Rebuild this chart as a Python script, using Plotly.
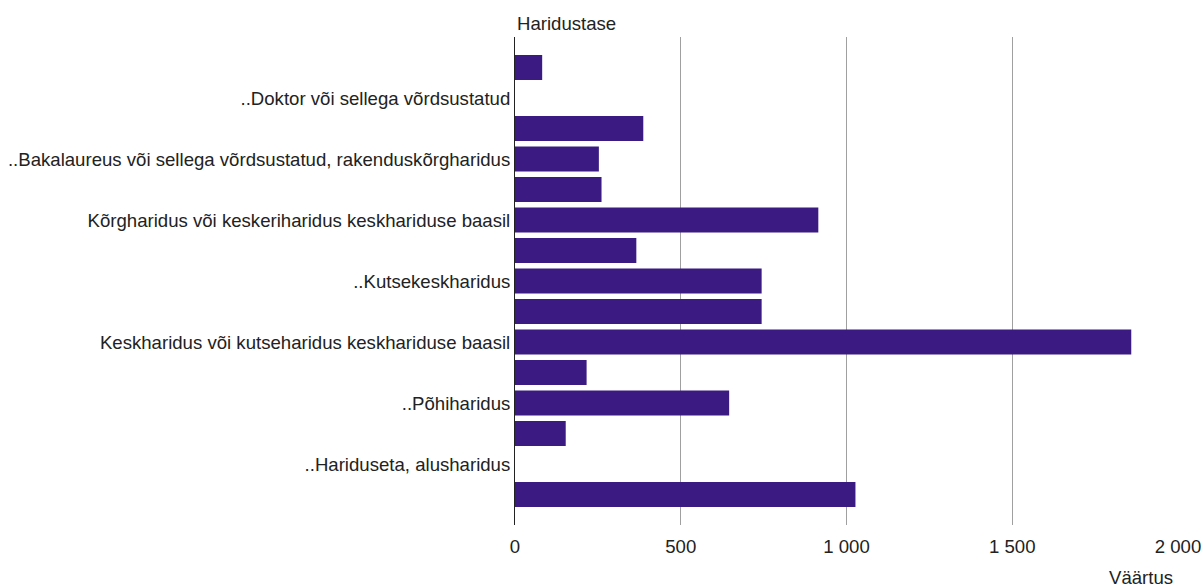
import plotly.graph_objects as go

labels = [
    "",
    "..Doktor või sellega võrdsustatud",
    "",
    "..Bakalaureus või sellega võrdsustatud, rakenduskõrgharidus",
    "",
    "Kõrgharidus või keskeriharidus keskhariduse baasil",
    "",
    "..Kutsekeskharidus",
    "",
    "Keskharidus või kutseharidus keskhariduse baasil",
    "",
    "..Põhiharidus",
    "",
    "..Hariduseta, alusharidus",
    "",
]
positions = list(range(len(labels)))
values = [82, None, 387, 253, 261, 915, 366, 744, 744, 1859, 216, 646, 153, None, 1027]

x_ticks = [0, 500, 1000, 1500, 2000]
x_ticktext = ["0", "500", "1 000", "1 500", "2 000"]

bar_color = "#3b1a82"
text_color = "#222222"
font_family = "Liberation Sans, Arial, sans-serif"
fsize = 18.6

fig = go.Figure(
    go.Bar(
        x=values,
        y=positions,
        orientation="h",
        marker=dict(color=bar_color, line=dict(width=0)),
        width=0.82,
    )
)

fig.update_layout(
    width=1204,
    height=588,
    margin=dict(l=515, r=26, t=37, b=63, autoexpand=False),
    plot_bgcolor="white",
    paper_bgcolor="white",
    showlegend=False,
    font=dict(family=font_family, size=fsize, color=text_color),
    xaxis=dict(
        range=[0, 2000],
        tickvals=x_ticks,
        ticktext=x_ticktext,
        showgrid=True,
        gridcolor="#a0a0a0",
        gridwidth=1,
        zeroline=False,
        showline=False,
        ticks="",
        ticklabelstandoff=8,
        tickfont=dict(size=fsize, color=text_color),
    ),
    yaxis=dict(
        range=[len(labels), -1],
        tickvals=positions,
        ticktext=labels,
        showgrid=False,
        zeroline=False,
        showline=True,
        linecolor="#222222",
        linewidth=1,
        ticks="",
        tickfont=dict(size=fsize, color=text_color),
    ),
    annotations=[
        dict(
            text="Haridustase",
            xref="paper", yref="paper",
            x=0, y=1,
            xanchor="left", yanchor="bottom",
            yshift=1,
            showarrow=False,
            font=dict(size=fsize, color=text_color),
        ),
        dict(
            text="Väärtus",
            xref="paper", yref="paper",
            x=1, y=0,
            xanchor="right", yanchor="top",
            xshift=-3, yshift=-40,
            showarrow=False,
            font=dict(size=fsize, color=text_color),
        ),
    ],
)

fig.write_html(
    "out.html",
    config={"displayModeBar": False},
    post_script="document.body.style.margin='0';document.body.style.overflow='hidden';",
)
